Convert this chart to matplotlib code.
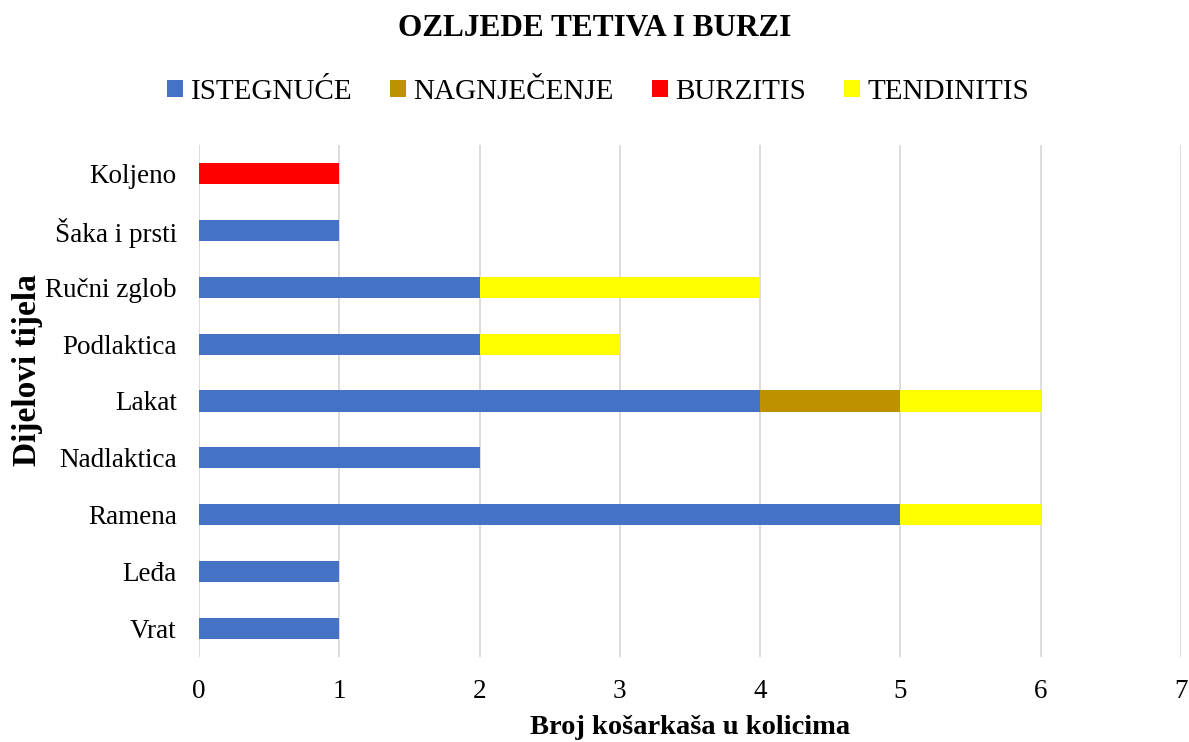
import matplotlib.pyplot as plt
import numpy as np

plt.rcParams['font.family'] = ['Liberation Serif', 'DejaVu Serif']

# kategorije odozdo prema gore
dijelovi = ["Vrat", "Leđa", "Ramena", "Nadlaktica", "Lakat", "Podlaktica",
            "Ručni zglob", "Šaka i prsti", "Koljeno"]

istegnuce = [1, 1, 5, 2, 4, 2, 2, 1, 0]
nagnjecenje = [0, 0, 0, 0, 1, 0, 0, 0, 0]
burzitis = [0, 0, 0, 0, 0, 0, 0, 0, 1]
tendinitis = [0, 0, 1, 0, 1, 1, 2, 0, 0]

serije = [
    ("ISTEGNUĆE", istegnuce, "#4472C4"),
    ("NAGNJEČENJE", nagnjecenje, "#BF9000"),
    ("BURZITIS", burzitis, "#FF0000"),
    ("TENDINITIS", tendinitis, "#FFFF00"),
]

fig = plt.figure(figsize=(11.89, 7.42), dpi=100)
ax = fig.add_axes([199 / 1189, 1 - 657 / 742, (1181 - 199) / 1189, (657 - 145) / 742])

y = np.arange(len(dijelovi))
left = np.zeros(len(dijelovi))
for naziv, vrijednosti, boja in serije:
    v = np.array(vrijednosti, dtype=float)
    ax.barh(y, v, left=left, height=0.37, color=boja, label=naziv, zorder=3)
    left += v

ax.set_xlim(0, 7)
ax.set_ylim(-0.5, len(dijelovi) - 0.5)
ax.set_yticks(y)
ax.set_yticklabels(dijelovi, fontsize=19.5)
ax.set_xticks(range(0, 8))
ax.tick_params(axis='x', labelsize=19.5, length=0, pad=16)
ax.tick_params(axis='y', length=0, pad=16)
ax.grid(axis='x', color='#D9D9D9', linewidth=1.3, zorder=0)
for s in ax.spines.values():
    s.set_visible(False)

ax.set_xlabel("Broj košarkaša u kolicima", fontsize=20.5, fontweight='bold')
ax.xaxis.set_label_coords(0.5, -(728 - 657) / 512, transform=ax.transAxes)
ax.xaxis.label.set_va('center')
ax.set_ylabel("Dijelovi tijela", fontsize=24, fontweight='bold')
ax.yaxis.set_label_coords(-(199 - 28) / 982, (657 - 370) / 512)
ax.yaxis.label.set_va('center')

fig.suptitle("OZLJEDE TETIVA I BURZI", fontsize=22.5, fontweight='bold', y=1 - 28 / 742, va='center')
fig.legend(loc='center', bbox_to_anchor=(598 / 1189, 1 - 92 / 742), ncol=4, frameon=False,
           fontsize=21, handlelength=0.55, handleheight=0.55, handletextpad=0.25, columnspacing=1.3)

fig.savefig("out.png", dpi=100)
